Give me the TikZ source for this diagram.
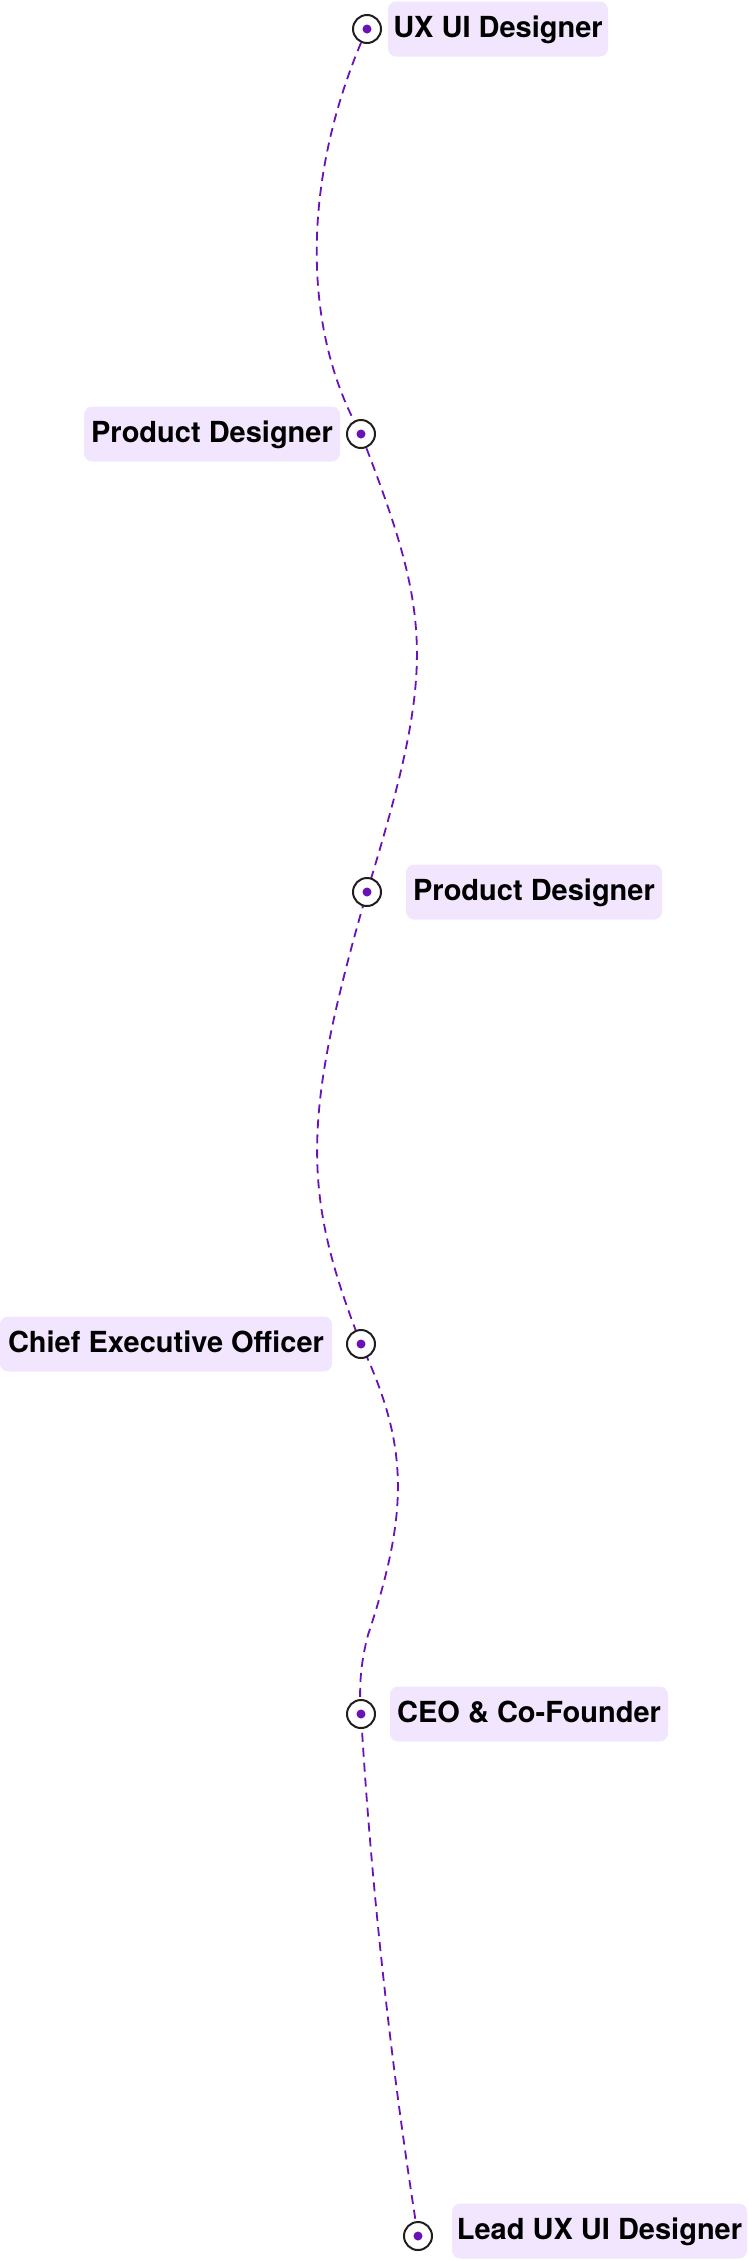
\documentclass[tikz,border=0pt]{standalone}
\usepackage{fontspec}
\setmainfont{TeX Gyre Heros}
\usetikzlibrary{positioning,backgrounds}
\definecolor{routepurple}{HTML}{6A12B8}
\definecolor{tagfill}{HTML}{F1E6FD}
\definecolor{ringgray}{HTML}{1F1F1F}
\begin{document}
\begin{tikzpicture}[x=1pt, y=-1pt,
  font=\bfseries\fontsize{29}{31}\selectfont,
  marker/.style={circle, draw=ringgray, fill=white, line width=2pt, minimum size=28pt, inner sep=0pt},
  tag/.style={fill=tagfill, rounded corners=8pt, inner sep=0pt, outer sep=0pt, minimum height=55pt, text height=20.5pt, text depth=3.8pt},
  route/.style={routepurple, line width=1.8pt, dash pattern=on 9pt off 6pt}]
  \useasboundingbox (0,0) rectangle (748,2260);
  % Markers
  \node[marker] (m1) at (367,29) {};
  \node[marker] (m2) at (361,434) {};
  \node[marker] (m3) at (367,892) {};
  \node[marker] (m4) at (361,1344) {};
  \node[marker] (m5) at (361,1714) {};
  \node[marker] (m6) at (418,2236) {};
  \foreach \i in {1,...,6} \fill[routepurple] (m\i) circle (4.5pt);
  \coordinate (bend) at (368,1635);
  % Route
  \begin{pgfonlayer}{background}
  \draw[route] (m1.center) .. controls (301,176) and (301,328) .. (m2.center)
    .. controls (433,620) and (436,666) .. (m3.center)
    .. controls (301,1120) and (302,1193) .. (m4.center)
    .. controls (409,1446) and (409,1511) .. (bend)
    .. controls (360,1665) and (359,1690) .. (m5.center)
    .. controls (371,1884) and (391,2067) .. (m6.center);
  \end{pgfonlayer}
  % Tags
  \node[tag, right=6pt of m1, minimum width=220pt] (t1) {UX UI Designer};
  \node[tag, left=6pt of m2, minimum width=256pt] (t2) {Product Designer};
  \node[tag, right=24pt of m3, minimum width=256pt] (t3) {Product Designer};
  \node[tag, left=14pt of m4, minimum width=332pt] (t4) {Chief Executive Officer};
  \node[tag, right=14pt of m5, minimum width=278pt] (t5) {CEO \& Co-Founder};
  \node[tag, right=19pt of m6, yshift=5pt, minimum width=295pt] (t6) {Lead UX UI Designer};
\end{tikzpicture}
\end{document}
